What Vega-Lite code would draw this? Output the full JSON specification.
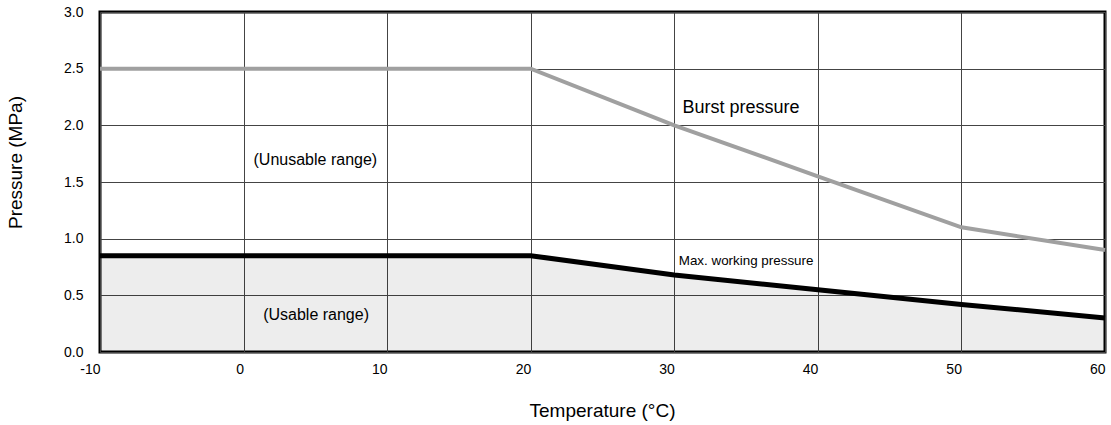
{
  "$schema": "https://vega.github.io/schema/vega-lite/v6.json",
  "width": 1005,
  "height": 340,
  "autosize": {"type": "none"},
  "padding": {"left": 100, "top": 12, "right": 6, "bottom": 73},
  "background": "white",
  "config": {
    "view": {"stroke": "#000", "strokeWidth": 3},
    "font": "Liberation Sans",
    "axis": {
      "ticks": false,
      "domain": false,
      "grid": true,
      "gridColor": "#444",
      "gridWidth": 1,
      "labelFont": "Liberation Sans",
      "labelFontSize": 14,
      "labelColor": "#000",
      "labelFlush": false,
      "labelOverlap": false,
      "titleFont": "Liberation Sans",
      "titleFontSize": 19,
      "titleFontWeight": "normal",
      "titleColor": "#000"
    }
  },
  "datasets": {
    "burst": [
      {"temp": -10, "pressure": 2.5},
      {"temp": 20, "pressure": 2.5},
      {"temp": 30, "pressure": 2.0},
      {"temp": 40, "pressure": 1.55},
      {"temp": 50, "pressure": 1.1},
      {"temp": 60, "pressure": 0.9}
    ],
    "maxwp": [
      {"temp": -10, "pressure": 0.85},
      {"temp": 20, "pressure": 0.85},
      {"temp": 30, "pressure": 0.68},
      {"temp": 40, "pressure": 0.55},
      {"temp": 50, "pressure": 0.42},
      {"temp": 60, "pressure": 0.3}
    ],
    "labels": [
      {"temp": 34.65, "pressure": 2.15, "label": "Burst pressure", "kind": "big"},
      {"temp": 5.0, "pressure": 1.69, "label": "(Unusable range)", "kind": "range"},
      {"temp": 5.05, "pressure": 0.33, "label": "(Usable range)", "kind": "range"}
    ],
    "small": [
      {"temp": 35.0, "pressure": 0.8, "label": "Max. working pressure"}
    ]
  },
  "encoding": {
    "x": {
      "field": "temp",
      "type": "quantitative",
      "scale": {"domain": [-10, 60], "nice": false, "zero": false},
      "axis": {
        "values": [-10, 0, 10, 20, 30, 40, 50, 60],
        "labelExpr": "'' + datum.value",
        "labelPadding": 10,
        "labelAlign": "right",
        "labelDx": 4,
        "title": "Temperature (°C)",
        "titleFontWeight": "normal",
        "titleX": 502,
        "titleY": 58,
        "titleBaseline": "middle"
      }
    },
    "y": {
      "field": "pressure",
      "type": "quantitative",
      "scale": {"domain": [0, 3], "nice": false},
      "axis": {
        "values": [0, 0.5, 1, 1.5, 2, 2.5, 3],
        "format": ".1f",
        "labelPadding": 17,
        "labelBaseline": "middle",
        "title": "Pressure (MPa)",
        "titleFontWeight": "normal",
        "titleX": -85,
        "titleY": 150,
        "titleBaseline": "middle"
      }
    }
  },
  "layer": [
    {
      "data": {"name": "maxwp"},
      "mark": {"type": "area", "color": "#000", "fillOpacity": 0.07}
    },
    {
      "data": {"name": "burst"},
      "mark": {"type": "line", "color": "#a0a0a0", "strokeWidth": 4}
    },
    {
      "data": {"name": "maxwp"},
      "mark": {"type": "line", "color": "#000", "strokeWidth": 5}
    },
    {
      "data": {"name": "labels"},
      "transform": [{"filter": "datum.kind == 'big'"}],
      "mark": {"type": "text", "fontSize": 18, "color": "#000", "baseline": "middle", "align": "center"},
      "encoding": {"text": {"field": "label"}}
    },
    {
      "data": {"name": "labels"},
      "transform": [{"filter": "datum.kind == 'range'"}],
      "mark": {"type": "text", "fontSize": 16, "color": "#000", "baseline": "middle", "align": "center"},
      "encoding": {"text": {"field": "label"}}
    },
    {
      "data": {"name": "small"},
      "mark": {"type": "text", "font": "Liberation Sans", "fontSize": 13.4, "color": "#000", "baseline": "middle", "align": "center"},
      "encoding": {"text": {"field": "label"}}
    }
  ]
}
